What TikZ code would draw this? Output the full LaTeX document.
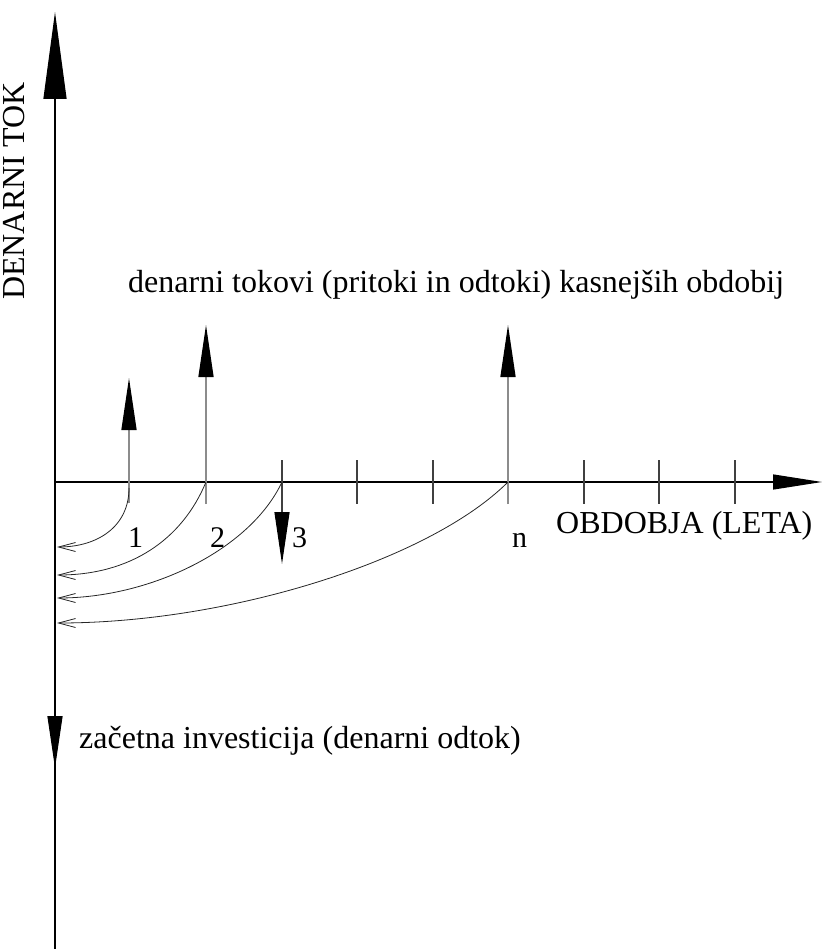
\documentclass[tikz,border=0pt]{standalone}
\usepackage{fontspec}
\setmainfont{Liberation Serif}
\usetikzlibrary{arrows.meta}
\begin{document}
\begin{tikzpicture}[x=1pt,y=-1pt,
  axisline/.style={line width=1.3pt,black},
  tickline/.style={line width=1.3pt,black!75},
  flowline/.style={line width=1.4pt,black!45},
  bigtip/.style={-{Triangle[length=87pt,width=23pt,color=black]}},
  smalltip/.style={-{Triangle[length=52pt,width=15pt,color=black]}},
  righttip/.style={-{Triangle[length=49pt,width=15pt,color=black]}},
  disc/.style={line width=0.8pt,black!85,-{Straight Barb[length=17pt,width=9pt,line width=0.8pt]}},
  lbl/.style={font=\fontsize{32}{38}\selectfont,inner sep=0pt},
  num/.style={font=\fontsize{30}{36}\selectfont,inner sep=0pt}
]
\useasboundingbox (0,0) rectangle (822,949);
% axis points
\coordinate (ybot) at (55,949);
\coordinate (ytop) at (55,12);
\coordinate (o) at (55,482);
\coordinate (xend) at (822,482);
% y axis
\draw[axisline,bigtip] (ybot) -- (ytop);
% x axis
\draw[axisline,righttip] (o) -- (xend);
% ticks
\foreach \x in {357,433,584,659,735}{
  \draw[tickline] (\x,460) -- (\x,504);
}
% periods
\coordinate (p1) at (129,482);
\coordinate (p2) at (206,482);
\coordinate (p3) at (282,482);
\coordinate (pn) at (508,482);
\coordinate (p1b) at (129,503);
\coordinate (p2b) at (206,504);
\coordinate (pnb) at (508,504);
\coordinate (p3t) at (282,460);
\coordinate (a1) at (129,378);
\coordinate (a2) at (206,325);
\coordinate (an) at (508,325);
\coordinate (a3) at (282,564);
% flows
\draw[flowline,smalltip] (p1b) -- (a1);
\draw[flowline,smalltip] (p2b) -- (a2);
\draw[flowline,smalltip] (pnb) -- (an);
\draw[tickline,smalltip] (p3t) -- (a3);
% investment
\coordinate (inv0) at (55,700);
\coordinate (inv1) at (55,768);
\draw[axisline,smalltip] (inv0) -- (inv1);
% discount curves
\coordinate (d1) at (57,547);
\coordinate (d2) at (57,575);
\coordinate (d3) at (57,598);
\coordinate (dn) at (57,623);
\coordinate (c1s) at (129,488);
\draw[disc] (c1s) .. controls (129,527) and (97,547) .. (d1);
\draw[disc] (p2) .. controls (182,540) and (130,575) .. (d2);
\draw[disc] (p3) .. controls (250,550) and (150,598) .. (d3);
\draw[disc] (pn) .. controls (430,560) and (230,623) .. (dn);
% labels
\node[lbl,rotate=90,anchor=base west] (ylab) at (24,300) {DENARNI TOK};
\node[lbl,anchor=base west] (top) at (128,292) {denarni tokovi (pritoki in odtoki) kasnejših obdobij};
\node[lbl,anchor=base west] (xlab) at (556,533) {OBDOBJA (LETA)};
\node[num,anchor=base west] (n1) at (128,547) {1};
\node[num,anchor=base west] (n2) at (210,547) {2};
\node[num,anchor=base west] (n3) at (292,547) {3};
\node[num,anchor=base west] (nn) at (512,547) {n};
\node[lbl,anchor=base west] (inv) at (79,748) {začetna investicija (denarni odtok)};
\end{tikzpicture}
\end{document}
